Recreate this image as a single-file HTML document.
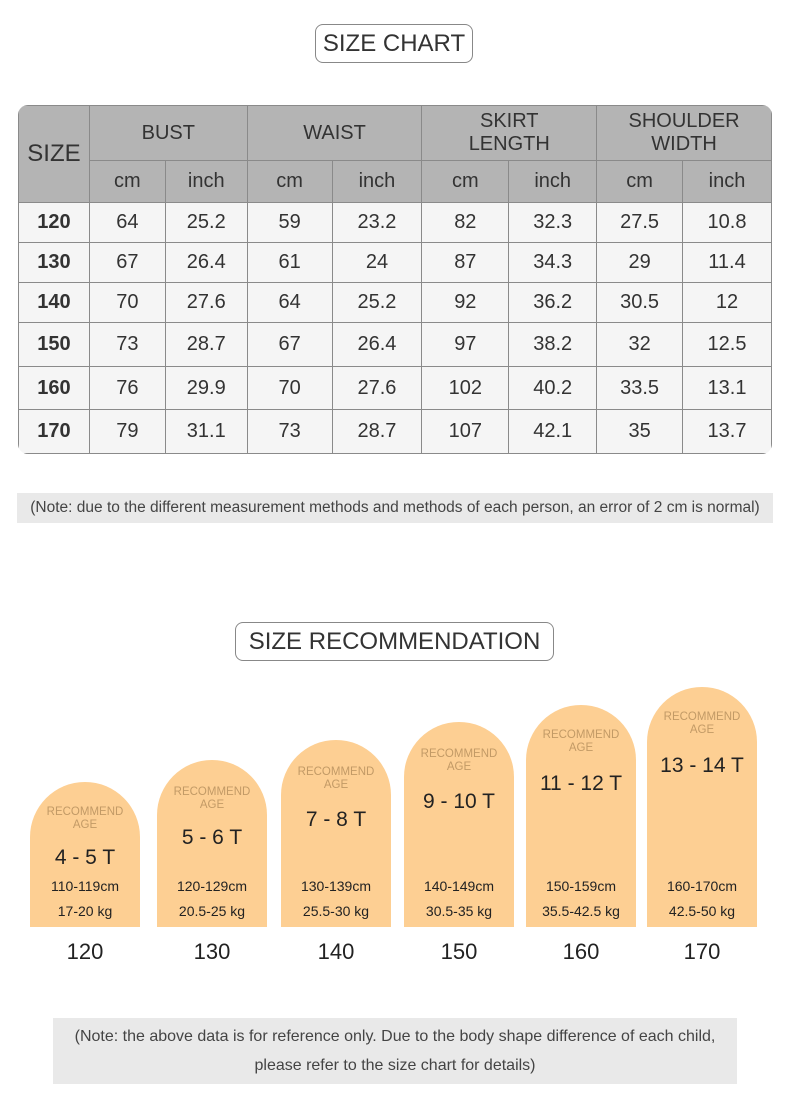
<!DOCTYPE html>
<html><head><style>
body{margin:0;width:790px;height:1102px;background:#fff;font-family:"Liberation Sans",sans-serif;color:#222;position:relative;overflow:hidden}
.abs{position:absolute}
.title{position:absolute;border:1px solid #888;border-radius:8px;text-align:center;font-size:24px;color:#333;box-sizing:border-box}
table{position:absolute;left:18px;top:105px;border-collapse:collapse;width:754px;border-radius:10px;overflow:hidden}
td{border:1px solid #8a8a8a;text-align:center;font-size:20px;color:#333;padding:0}
.h td{background:#b4b4b4}
tr.d td{background:#f5f5f5}
tr.d td:first-child{font-weight:bold}
.bar{position:absolute;width:110px;background:#fdcf93;border-radius:55px 55px 0 0}
.bar div{position:absolute;width:100%;text-align:center}
.rec{font-size:11.5px;color:#c29a66;line-height:13px}
.age{font-size:21px;color:#222}
.sm{font-size:14px;color:#222}
.lab{position:absolute;width:110px;text-align:center;font-size:22px;top:939px;color:#222}
</style></head><body>
<div class="title" style="left:315px;top:24px;width:158px;height:39px;line-height:38px">SIZE CHART</div>
<table>
<colgroup><col style="width:71px"><col style="width:76px"><col style="width:82px"><col style="width:85px"><col style="width:90px"><col style="width:87px"><col style="width:88px"><col style="width:86px"><col style="width:89px"></colgroup>
<tr class="h" style="height:55px"><td rowspan="2" style="font-size:24px">SIZE</td><td colspan="2">BUST</td><td colspan="2">WAIST</td><td colspan="2" style="line-height:23px">SKIRT<br>LENGTH</td><td colspan="2" style="line-height:23px">SHOULDER<br>WIDTH</td></tr>
<tr class="h" style="height:42px"><td>cm</td><td>inch</td><td>cm</td><td>inch</td><td>cm</td><td>inch</td><td>cm</td><td>inch</td></tr>
<tr class="d" style="height:40px"><td>120</td><td>64</td><td>25.2</td><td>59</td><td>23.2</td><td>82</td><td>32.3</td><td>27.5</td><td>10.8</td></tr>
<tr class="d" style="height:40px"><td>130</td><td>67</td><td>26.4</td><td>61</td><td>24</td><td>87</td><td>34.3</td><td>29</td><td>11.4</td></tr>
<tr class="d" style="height:40px"><td>140</td><td>70</td><td>27.6</td><td>64</td><td>25.2</td><td>92</td><td>36.2</td><td>30.5</td><td>12</td></tr>
<tr class="d" style="height:44px"><td>150</td><td>73</td><td>28.7</td><td>67</td><td>26.4</td><td>97</td><td>38.2</td><td>32</td><td>12.5</td></tr>
<tr class="d" style="height:43px"><td>160</td><td>76</td><td>29.9</td><td>70</td><td>27.6</td><td>102</td><td>40.2</td><td>33.5</td><td>13.1</td></tr>
<tr class="d" style="height:44px"><td>170</td><td>79</td><td>31.1</td><td>73</td><td>28.7</td><td>107</td><td>42.1</td><td>35</td><td>13.7</td></tr>
</table>
<div class="abs" style="left:17px;top:493px;width:756px;height:30px;background:#e9e9e9;font-size:15.5px;line-height:30px;text-align:center;color:#444;white-space:nowrap">(Note: due to the different measurement methods and methods of each person, an error of 2 cm is normal)</div>
<div class="title" style="left:235px;top:622px;width:319px;height:39px;line-height:38px">SIZE RECOMMENDATION</div>

<div class="bar" style="left:30px;top:782px;height:145px"><div class="rec" style="top:24px">RECOMMEND<br>AGE</div><div class="age" style="top:64px">4 - 5 T</div><div class="sm" style="top:96px">110-119cm</div><div class="sm" style="top:121px">17-20 kg</div></div>
<div class="bar" style="left:157px;top:760px;height:167px"><div class="rec" style="top:26px">RECOMMEND<br>AGE</div><div class="age" style="top:66px">5 - 6 T</div><div class="sm" style="top:118px">120-129cm</div><div class="sm" style="top:143px">20.5-25 kg</div></div>
<div class="bar" style="left:281px;top:740px;height:187px"><div class="rec" style="top:26px">RECOMMEND<br>AGE</div><div class="age" style="top:68px">7 - 8 T</div><div class="sm" style="top:138px">130-139cm</div><div class="sm" style="top:163px">25.5-30 kg</div></div>
<div class="bar" style="left:404px;top:722px;height:205px"><div class="rec" style="top:26px">RECOMMEND<br>AGE</div><div class="age" style="top:68px">9 - 10 T</div><div class="sm" style="top:156px">140-149cm</div><div class="sm" style="top:181px">30.5-35 kg</div></div>
<div class="bar" style="left:526px;top:705px;height:222px"><div class="rec" style="top:24px">RECOMMEND<br>AGE</div><div class="age" style="top:67px">11 - 12 T</div><div class="sm" style="top:173px">150-159cm</div><div class="sm" style="top:198px">35.5-42.5 kg</div></div>
<div class="bar" style="left:647px;top:687px;height:240px"><div class="rec" style="top:24px">RECOMMEND<br>AGE</div><div class="age" style="top:67px">13 - 14 T</div><div class="sm" style="top:191px">160-170cm</div><div class="sm" style="top:216px">42.5-50 kg</div></div>

<div class="lab" style="left:30px">120</div>
<div class="lab" style="left:157px">130</div>
<div class="lab" style="left:281px">140</div>
<div class="lab" style="left:404px">150</div>
<div class="lab" style="left:526px">160</div>
<div class="lab" style="left:647px">170</div>

<div class="abs" style="left:53px;top:1018px;width:684px;height:66px;background:#e9e9e9;font-size:16px;line-height:29px;text-align:center;color:#444;padding-top:4px;box-sizing:border-box">(Note: the above data is for reference only. Due to the body shape difference of each child,<br>please refer to the size chart for details)</div>
</body></html>
